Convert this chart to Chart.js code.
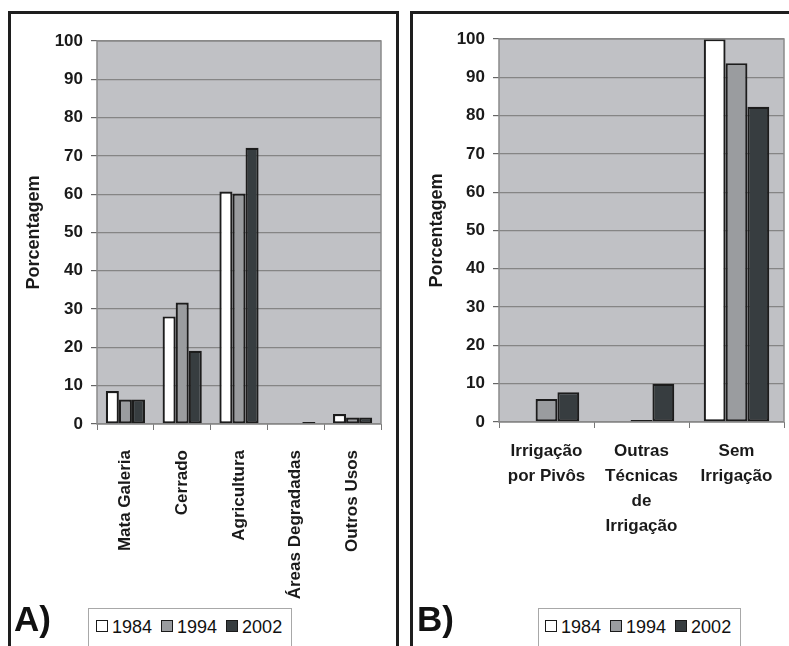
<!DOCTYPE html>
<html lang="pt-br">
<head>
<meta charset="UTF-8">
<title>Uso do solo e irrigação</title>
<script src="https://cdn.jsdelivr.net/npm/chart.js"></script>
<style>
    body { margin: 0; width: 789px; height: 646px; background: #fff; position: relative; overflow: hidden; font-family: "Liberation Sans", Arial, sans-serif; }
    .painel { position: absolute; top: 11px; border: 3px solid #1e1e1e; border-bottom: none; height: 650px; }
    #painelA { left: 8px; width: 385px; }
    #painelB { left: 410px; width: 400px; border-right: none; }
    .graf { position: absolute; top: 13px; height: 633px; }
    .letra { position: absolute; top: 599px; font-weight: bold; font-size: 35px; color: #111; }
    .legenda { position: absolute; top: 608px; height: 45px; border: 1px solid #a8a8a8; background: #fff; font-size: 18px; color: #111; box-sizing: border-box; padding-top: 8px; white-space: nowrap; }
    .legenda span.q { display: inline-block; width: 10px; height: 10px; border: 1.5px solid #1a1a1a; margin-right: 4px; vertical-align: 1px; }
    .legenda span.t { margin-right: 9px; }
</style>
</head>
<body>
    <div class="painel" id="painelA"></div>
    <div class="painel" id="painelB"></div>

    <div class="graf" style="left:10px; width:387px;"><canvas id="graficoA" width="387" height="633"></canvas></div>
    <div class="graf" style="left:413px; width:376px;"><canvas id="graficoB" width="376" height="633"></canvas></div>

    <div class="letra" style="left:14px;">A)</div>
    <div class="letra" style="left:417px;">B)</div>

    <div class="legenda" id="legA" style="left:88px; width:204px; padding-left:7px;"></div>
    <div class="legenda" id="legB" style="left:538px; width:203px; padding-left:6px;"></div>

<script>
    // dados
    var anos = ['1984', '1994', '2002'];
    var coresAnos = ['#ffffff', '#9a9c9f', '#373d40'];

    var usosSolo = ['Mata Galeria', 'Cerrado', 'Agricultura', 'Áreas Degradadas', 'Outros Usos'];
    var solo1984 = [8.6, 28.1, 60.7, 0, 2.6];
    var solo1994 = [6.4, 31.7, 60.2, 0, 1.7];
    var solo2002 = [6.4, 19.1, 72.1, 0.5, 1.7];

    var tiposIrrigacao = [['Irrigação', 'por Pivôs'], ['Outras', 'Técnicas', 'de', 'Irrigação'], ['Sem', 'Irrigação']];
    var irrig1984 = [0, 0, 100];
    var irrig1994 = [6.0, 0.5, 93.7];
    var irrig2002 = [7.8, 10.0, 82.3];

    var ticksY = [0, 10, 20, 30, 40, 50, 60, 70, 80, 90, 100];

    Chart.defaults.font.family = '"Liberation Sans", Arial, sans-serif';
    Chart.defaults.color = '#111';
    Chart.defaults.animation = false;

    // fundo cinza e moldura da área do gráfico
    const fundoPlot = {
        id: 'fundoPlot',
        beforeDraw(chart) {
            const a = chart.chartArea, ctx = chart.ctx;
            ctx.save();
            ctx.fillStyle = '#c0c1c5';
            ctx.fillRect(a.left, a.top, a.right - a.left, a.bottom - a.top);
            ctx.restore();
        },
        afterDatasetsDraw(chart) {
            const a = chart.chartArea, ctx = chart.ctx;
            ctx.save();
            ctx.strokeStyle = '#8a8a8a';
            ctx.lineWidth = 1.5;
            ctx.strokeRect(a.left, a.top, a.right - a.left, a.bottom - a.top);
            ctx.restore();
        }
    };

    function montarDatasets(series) {
        return anos.map(function (ano, i) {
            return {
                label: ano,
                data: series[i],
                backgroundColor: coresAnos[i],
                borderColor: '#1c1c1c',
                borderWidth: 2.2,
                borderSkipped: false,
                barPercentage: 1,
                categoryPercentage: 0.69
            };
        });
    }

    function criarGrafico(idCanvas, labels, series, cfg) {
        return new Chart(document.getElementById(idCanvas), {
            type: 'bar',
            data: { labels: labels, datasets: montarDatasets(series) },
            plugins: [fundoPlot],
            options: {
                responsive: false,
                layout: { padding: { left: 9, right: cfg.padDir, top: cfg.padTopo, bottom: 0 } },
                plugins: { legend: { display: false }, tooltip: { enabled: false } },
                scales: {
                    y: {
                        min: 0, max: 100,
                        afterBuildTicks: function (ax) { ax.ticks = ticksY.map(function (v) { return { value: v }; }); },
                        afterFit: function (ax) { ax.width = cfg.larguraY; },
                        border: { display: false },
                        grid: { color: '#858585', lineWidth: 1.2, tickLength: 6, tickColor: '#666' },
                        ticks: { padding: 8, font: { size: 17, weight: 'bold' }, color: '#1a1a1a' },
                        title: { display: true, text: 'Porcentagem', font: { size: 18, weight: 'bold' }, color: '#1a1a1a', padding: { top: 4, bottom: 4 } }
                    },
                    x: {
                        afterFit: function (ax) { ax.height = cfg.alturaX; },
                        border: { display: false },
                        grid: { drawOnChartArea: false, tickLength: 6, color: '#777', offset: true },
                        ticks: cfg.ticksX
                    }
                }
            }
        });
    }

    criarGrafico('graficoA', usosSolo, [solo1984, solo1994, solo2002], {
        padDir: 16, padTopo: 28, larguraY: 78, alturaX: 222,
        ticksX: { minRotation: 90, maxRotation: 90, padding: 20, font: { size: 17, weight: 'bold' }, color: '#1a1a1a', autoSkip: false }
    });

    criarGrafico('graficoB', tiposIrrigacao, [irrig1984, irrig1994, irrig2002], {
        padDir: 5, padTopo: 26, larguraY: 77, alturaX: 224,
        ticksX: { maxRotation: 0, minRotation: 0, padding: 11, font: { size: 17, weight: 'bold', lineHeight: '25px' }, color: '#1a1a1a', autoSkip: false }
    });

    // legendas em html
    function montarLegenda(id) {
        var html = '';
        for (var i = 0; i < anos.length; i++) {
            html += '<span class="q" style="background:' + coresAnos[i] + '"></span><span class="t">' + anos[i] + '</span>';
        }
        document.getElementById(id).innerHTML = html;
    }
    montarLegenda('legA');
    montarLegenda('legB');
</script>
</body>
</html>
